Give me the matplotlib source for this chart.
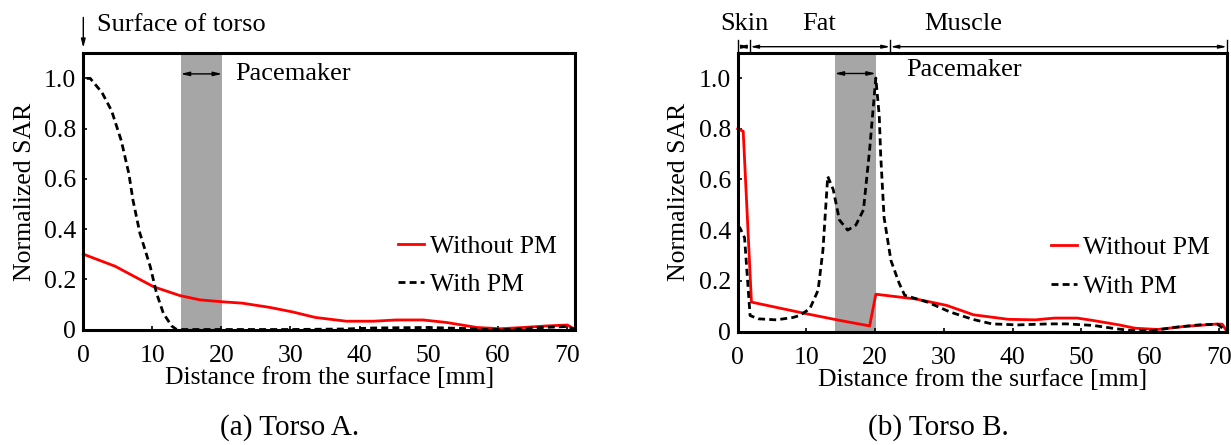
import matplotlib.pyplot as plt
import numpy as np

plt.rcParams['font.family'] = ['Liberation Serif', 'DejaVu Serif']

# Torso A
xa_wo = [0, 4.6, 10.2, 14, 16.9, 20.3, 23, 27, 30.3, 33.6, 38.1, 42, 45.3, 49.2, 52.6, 57, 60.4, 63.7, 67, 70.1, 71.2]
ya_wo = [0.30, 0.252, 0.17, 0.135, 0.118, 0.11, 0.105, 0.088, 0.07, 0.048, 0.033, 0.033, 0.038, 0.038, 0.028, 0.008, 0.003, 0.008, 0.014, 0.018, 0.0]
xa_w = [0.5, 1.0, 2.7, 4.1, 5.5, 6.6, 7.2, 8.2, 9.7, 10.6, 11.6, 12.8, 13.5, 20, 30, 38, 42, 50, 55, 58, 62, 65, 70, 71.2]
ya_w = [1.0, 1.0, 0.944, 0.871, 0.752, 0.62, 0.514, 0.383, 0.25, 0.145, 0.064, 0.014, 0.0, 0.0, 0.0, 0.002, 0.006, 0.008, 0.004, 0.0, 0.0, 0.006, 0.012, 0.0]

# Torso B
xb_wo = [0, 0.8, 2.0, 10, 15, 19.2, 20.1, 23.5, 26, 30.4, 34.3, 39.4, 43.3, 46.1, 49.4, 51.6, 55.5, 57.8, 61.1, 65, 69.5, 70.5, 71.2]
yb_wo = [0.80, 0.79, 0.116, 0.07, 0.043, 0.022, 0.147, 0.136, 0.128, 0.103, 0.066, 0.048, 0.046, 0.053, 0.053, 0.044, 0.026, 0.013, 0.008, 0.02, 0.029, 0.029, 0.0]
xb_w = [0, 0.3, 1.0, 1.8, 3, 5.6, 8, 9, 10.5, 11.7, 12.4, 13.1, 13.9, 14.8, 16, 17.2, 18.3, 19.2, 19.9, 20.1, 20.6, 20.8, 21.3, 22.3, 23.5, 24.3,
        27.6, 30.9, 34.2, 37, 40.8, 45.2, 47.9, 51.7, 55, 57.2, 60.5, 63.8, 67.1, 69.8, 71.2]
yb_w = [0.41, 0.41, 0.37, 0.063, 0.05, 0.046, 0.055, 0.063, 0.09, 0.163, 0.32, 0.612, 0.56, 0.44, 0.40, 0.42, 0.48, 0.718, 0.94, 1.0, 0.85, 0.7, 0.45, 0.28, 0.19, 0.143,
        0.116, 0.077, 0.048, 0.030, 0.026, 0.030, 0.030, 0.024, 0.011, 0.004, 0.004, 0.017, 0.026, 0.029, 0.0]

pm_start, pm_end = 14.1, 20.1
layers = ["Skin", "Fat", "Muscle"]
layer_edges = [0, 1.8, 22.2, 71.2]
layer_label_x = [0.9, 11.8, 32.8]

fs = 18.5
W, H = 1231, 445
fig = plt.figure(figsize=(12.31, 4.45), dpi=100)
axA = fig.add_axes([83.3 / W, 1 - 329.5 / H, 491.7 / W, 276.2 / H])
axB = fig.add_axes([737.7 / W, 1 - 331.5 / H, 489.3 / W, 278.8 / H])


def style(ax):
    ax.set_xlim(0, 71.2)
    ax.set_ylim(0, 1.1)
    ax.set_xticks(range(0, 71, 10))
    ax.set_yticks([0, 0.2, 0.4, 0.6, 0.8, 1.0])
    ax.set_yticklabels(["0", "0.2", "0.4", "0.6", "0.8", "1.0"])
    ax.tick_params(direction='in', length=3, width=1.2, labelsize=fs)
    ax.tick_params(axis='x', pad=11)
    ax.tick_params(axis='y', pad=5)
    for s in ax.spines.values():
        s.set_linewidth(2.2)
    ax.axvspan(pm_start, pm_end, color='#a6a6a6', lw=0, zorder=0)
    ax.set_xlabel("Distance from the surface [mm]", fontsize=fs, labelpad=0)
    ax.set_ylabel("Normalized SAR", fontsize=fs, labelpad=6)
    ax.annotate("", xy=(pm_start, 1.018), xytext=(pm_end, 1.018),
                arrowprops=dict(arrowstyle='<|-|>,head_length=0.5,head_width=0.12', color='black', lw=1, shrinkA=0, shrinkB=0))


for ax, xw, yw, xo, yo in [(axA, xa_w, ya_w, xa_wo, ya_wo), (axB, xb_w, yb_w, xb_wo, yb_wo)]:
    style(ax)
    ax.plot(xo, yo, color='red', lw=2, label="Without PM", clip_on=False)
    ax.plot(xw, yw, color='black', lw=2, ls=(0, (2.5, 1.5)), label="With PM", clip_on=False)
    ax.legend(loc='upper left', bbox_to_anchor=(0.64, 0.342), frameon=False, fontsize=fs,
              handlelength=1.0, handletextpad=0.25, labelspacing=0.6, borderpad=0, borderaxespad=0)

axA.text(22, 1.018, "Pacemaker", fontsize=fs + 0.5, va='center', ha='left')
axB.text(24.5, 1.03, "Pacemaker", fontsize=fs + 0.5, va='center', ha='left')

# surface of torso
axA.annotate("", xy=(0, 1.02), xytext=(0, 1.13), xycoords=('data', 'axes fraction'),
             textcoords=('data', 'axes fraction'), annotation_clip=False,
             arrowprops=dict(arrowstyle='-|>,head_length=0.5,head_width=0.13', color='black', lw=1, shrinkA=0, shrinkB=0))
axA.text(2, 1.102, "Surface of torso", transform=axA.get_xaxis_transform(), fontsize=fs + 0.5, va='center', ha='left')

# tissue layers above panel B
trans = axB.get_xaxis_transform()
for i, name in enumerate(layers):
    x0, x1 = layer_edges[i], layer_edges[i + 1]
    axB.annotate("", xy=(x0, 1.0215), xytext=(x1, 1.0215), xycoords=trans, textcoords=trans, annotation_clip=False,
                 arrowprops=dict(arrowstyle='<|-|>,head_length=0.45,head_width=0.1', color='black', lw=1, shrinkA=0, shrinkB=0))
    axB.text(layer_label_x[i], 1.103, name, transform=trans, fontsize=fs + 0.5, ha='center', va='center')
for xe in layer_edges:
    axB.plot([xe, xe], [1.0, 1.045], transform=trans, color='black', lw=1, clip_on=False)

fig.text(290 / W, 1 - 428 / H, "(a) Torso A.", fontsize=21, ha='center', va='center')
fig.text(938 / W, 1 - 428 / H, "(b) Torso B.", fontsize=21, ha='center', va='center')

fig.savefig("out.png", dpi=100)
